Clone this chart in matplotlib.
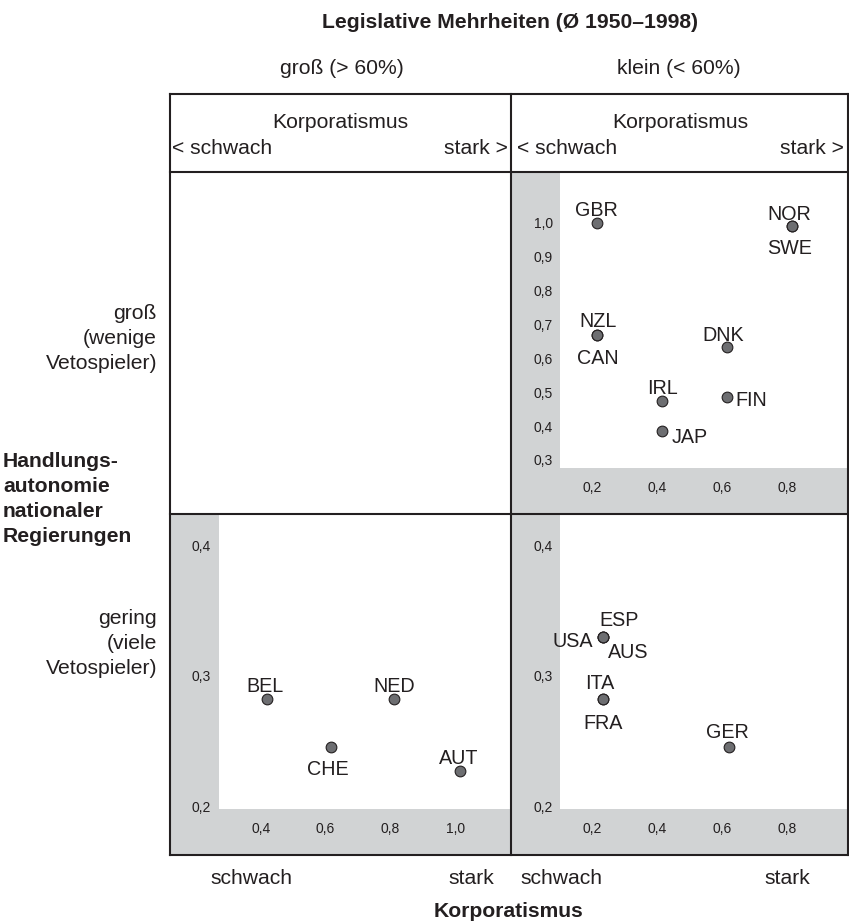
import matplotlib
matplotlib.use("Agg")
import matplotlib.pyplot as plt
from matplotlib.patches import Rectangle
from matplotlib.ticker import FuncFormatter

plt.rcParams['font.family'] = ['Liberation Sans', 'DejaVu Sans']

# ---------------- data ----------------
title = "Legislative Mehrheiten (Ø 1950–1998)"
col_labels = ["groß (> 60%)", "klein (< 60%)"]
row_labels = [["groß", "(wenige", "Vetospieler)"], ["gering", "(viele", "Vetospieler)"]]
y_axis_title = ["Handlungs-", "autonomie", "nationaler", "Regierungen"]
x_axis_title = "Korporatismus"
header_left, header_right = "< schwach", "stark >"
foot_left, foot_right = "schwach", "stark"

# top-right panel (große Handlungsautonomie, kleine Mehrheiten)
tr_countries = ["GBR", "NOR", "SWE", "NZL", "CAN", "DNK", "IRL", "FIN", "JAP"]
tr_x = [0.215, 0.812, 0.812, 0.215, 0.215, 0.613, 0.414, 0.615, 0.414]
tr_y = [1.000, 0.990, 0.990, 0.670, 0.670, 0.634, 0.474, 0.487, 0.385]
tr_xticks = [0.2, 0.4, 0.6, 0.8]
tr_yticks = [0.3, 0.4, 0.5, 0.6, 0.7, 0.8, 0.9, 1.0]

# bottom-left panel (geringe Handlungsautonomie, große Mehrheiten)
bl_countries = ["BEL", "NED", "CHE", "AUT"]
bl_x = [0.420, 0.811, 0.616, 1.014]
bl_y = [0.282, 0.282, 0.245, 0.227]
bl_xticks = [0.4, 0.6, 0.8, 1.0]
bl_yticks = [0.2, 0.3, 0.4]

# bottom-right panel (geringe Handlungsautonomie, kleine Mehrheiten)
br_countries = ["ESP", "USA", "AUS", "ITA", "FRA", "GER"]
br_x = [0.234, 0.234, 0.234, 0.234, 0.234, 0.621]
br_y = [0.330, 0.330, 0.330, 0.282, 0.282, 0.245]
br_xticks = [0.2, 0.4, 0.6, 0.8]
br_yticks = [0.2, 0.3, 0.4]

# ---------------- styles / layout ----------------
W, H = 849, 922
TXT = '#231f20'
GRAY = '#d1d3d4'
PT_FILL = '#6d6e71'
FS = 15.2
FS_LAB = 14.2
FS_TICK = 10
LW = 1.5

# label placement (pixel offsets of label centre from point, alignment)
label_pos = {
    "GBR": (0, -14, 'center'), "NOR": (-2, -13, 'center'), "SWE": (-2, 21, 'center'),
    "NZL": (1, -15, 'center'), "CAN": (1, 22, 'center'), "DNK": (-3, -13, 'center'),
    "IRL": (1, -14, 'center'), "FIN": (8, 2.5, 'left'), "JAP": (10, 4.5, 'left'),
    "BEL": (-2, -14, 'center'), "NED": (0, -14, 'center'), "CHE": (-3, 21, 'center'),
    "AUT": (-1, -14, 'center'),
    "ESP": (16, -18, 'center'), "USA": (-10, 3, 'right'), "AUS": (5, 14, 'left'),
    "ITA": (-3, -17, 'center'), "FRA": (0, 23, 'center'), "GER": (-2, -16, 'center'),
}

fig = plt.figure(figsize=(W / 100, H / 100), dpi=100)
bg = fig.add_axes([0, 0, 1, 1])
bg.set_xlim(0, W)
bg.set_ylim(H, 0)
bg.axis('off')

# grid geometry (pixels)
L, R, T, B = 170, 848, 94, 855
XM = 511.5
Y1, Y2 = 172, 514
GW = 49   # gray band width (left)
GH = 46   # gray band height (bottom)

# gray bands
bg.add_patch(Rectangle((XM, Y1), GW, Y2 - Y1, color=GRAY, lw=0))
bg.add_patch(Rectangle((XM, Y2 - GH), R - XM, GH, color=GRAY, lw=0))
bg.add_patch(Rectangle((L, Y2), GW, B - Y2, color=GRAY, lw=0))
bg.add_patch(Rectangle((L, B - GH), XM - L, GH, color=GRAY, lw=0))
bg.add_patch(Rectangle((XM, Y2), GW, B - Y2, color=GRAY, lw=0))
bg.add_patch(Rectangle((XM, B - GH), R - XM, GH, color=GRAY, lw=0))

# frame lines
for (x0, x1, y0, y1) in [(L, R, T, T), (L, R, B, B), (L, L, T, B), (R, R, T, B),
                         (XM, XM, T, B), (L, R, Y1, Y1), (L, R, Y2, Y2)]:
    bg.plot([x0, x1], [y0, y1], color=TXT, lw=LW, solid_capstyle='projecting')

# texts
bg.text(510, 28, title, ha='center', va='baseline', fontsize=FS, fontweight='bold', color=TXT)
bg.text(342, 74, col_labels[0], ha='center', va='baseline', fontsize=FS, color=TXT)
bg.text(679, 74, col_labels[1], ha='center', va='baseline', fontsize=FS, color=TXT)
for cx, xl, xr in [(340, 172, 508), (680, 517, 844)]:
    bg.text(cx, 128, x_axis_title, ha='center', va='baseline', fontsize=FS, color=TXT)
    bg.text(xl, 154, header_left, ha='left', va='baseline', fontsize=FS, color=TXT)
    bg.text(xr, 154, header_right, ha='right', va='baseline', fontsize=FS, color=TXT)
for cx, lab in [(251, foot_left), (471.5, foot_right), (561, foot_left), (787, foot_right)]:
    bg.text(cx, 884, lab, ha='center', va='baseline', fontsize=FS, color=TXT)
bg.text(509, 917, x_axis_title, ha='center', va='baseline', fontsize=FS, fontweight='bold', color=TXT)

for yb, lines in [(318.5, row_labels[0]), (623.5, row_labels[1])]:
    for i, s in enumerate(lines):
        bg.text(157, yb + 25 * i, s, ha='right', va='baseline', fontsize=FS, color=TXT)
for i, s in enumerate(y_axis_title):
    bg.text(3, 466.5 + 25 * i, s, ha='left', va='baseline', fontsize=FS, fontweight='bold', color=TXT)


def comma(v, pos):
    return f"{v:.1f}".replace('.', ',')


def panel(px0, px1, py0, py1, xlim, ylim, xs, ys, names, xticks, yticks):
    ax = fig.add_axes([px0 / W, 1 - py1 / H, (px1 - px0) / W, (py1 - py0) / H])
    ax.set_facecolor('none')
    ax.set_xlim(*xlim)
    ax.set_ylim(*ylim)
    for s in ax.spines.values():
        s.set_visible(False)
    ax.set_xticks(xticks)
    ax.set_yticks(yticks)
    ax.xaxis.set_major_formatter(FuncFormatter(comma))
    ax.yaxis.set_major_formatter(FuncFormatter(comma))
    ax.tick_params(axis='x', length=0, pad=9.5, labelsize=FS_TICK, labelcolor=TXT)
    ax.tick_params(axis='y', length=0, pad=6, labelsize=FS_TICK, labelcolor=TXT)
    ax.plot(xs, ys, 'o', ms=7.7, mfc=PT_FILL, mec=TXT, mew=0.8, ls='none', clip_on=False, zorder=3)
    for n, x, y in zip(names, xs, ys):
        dx, dy, ha = label_pos[n]
        ax.annotate(n, (x, y), xytext=(dx, -(dy + 7)), textcoords='offset pixels',
                    ha=ha, va='baseline', fontsize=FS_LAB, color=TXT, zorder=4)
    return ax


# pixel mapping of data: x 0.2 -> 591.7 px, 326.7 px/unit (right panels)
panel(561, 848, 172, 468, (0.106, 0.985), (0.276, 1.150), tr_x, tr_y, tr_countries, tr_xticks, tr_yticks)
panel(219, 511, 515, 809, (0.2715, 1.1716), (0.1977, 0.4238), bl_x, bl_y, bl_countries, bl_xticks, bl_yticks)
panel(561, 848, 515, 809, (0.106, 0.985), (0.1977, 0.4238), br_x, br_y, br_countries, br_xticks, br_yticks)

fig.savefig("out.png", dpi=100)
